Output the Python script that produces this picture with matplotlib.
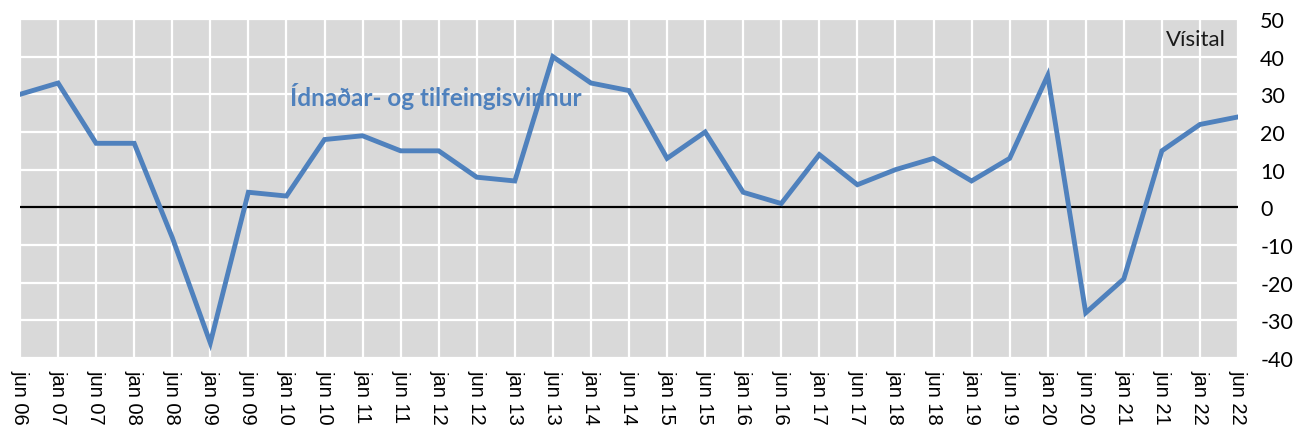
import numpy as np
import matplotlib
matplotlib.use("Agg")
import matplotlib.pyplot as plt

# hálvárs-vísital, jun 06 - jun 22
periods = ["jun 06", "jan 07", "jun 07", "jan 08", "jun 08", "jan 09", "jun 09",
           "jan 10", "jun 10", "jan 11", "jun 11", "jan 12", "jun 12", "jan 13",
           "jun 13", "jan 14", "jun 14", "jan 15", "jun 15", "jan 16", "jun 16",
           "jan 17", "jun 17", "jan 18", "jun 18", "jan 19", "jun 19", "jan 20",
           "jun 20", "jan 21", "jun 21", "jan 22", "jun 22"]
values = [30, 33, 17, 17, -8, -36, 4, 3, 18, 19, 15, 15, 8, 7, 40, 33, 31,
          13, 20, 4, 1, 14, 6, 10, 13, 7, 13, 35, -28, -19, 15, 22, 24]
yticks = list(range(-40, 51, 10))

blue = "#4f81bd"

fig = plt.figure(figsize=(13.05, 4.39), dpi=100)
ax = fig.add_axes([20 / 1305, 80 / 439, 1218 / 1305, 339 / 439])
ax.set_facecolor("#d9d9d9")

x = np.arange(len(periods))
ax.plot(x, values, color=blue, linewidth=3.5, solid_joinstyle="miter", zorder=3)
ax.axhline(0, color="black", linewidth=1.6, zorder=2)

ax.set_xlim(0, len(periods) - 1)
ax.set_ylim(-40, 50)
ax.set_xticks(x)
ax.set_xticklabels(periods, rotation=-90, va="top", ha="center",
                   family="Liberation Sans", fontsize=14.5)
ax.set_yticks(yticks)
ax.set_yticklabels([str(v) for v in yticks], family="Lato", fontsize=15.5)
ax.yaxis.tick_right()
ax.tick_params(axis="y", length=0, pad=16)
ax.tick_params(axis="x", length=0, pad=8)

ax.grid(True, color="white", linewidth=1.6)
ax.set_axisbelow(True)
for s in ax.spines.values():
    s.set_visible(False)

ax.text(7.1, 29.6, "Ídnaðar- og tilfeingisvinnur", color=blue, family="Lato",
        fontweight="bold", fontsize=17.5, va="center", ha="left")
ax.text(30.9, 44.7, "Vísital", color="#1a1a1a", family="Lato",
        fontsize=16, va="center", ha="center")

fig.savefig("out.png", dpi=100)
